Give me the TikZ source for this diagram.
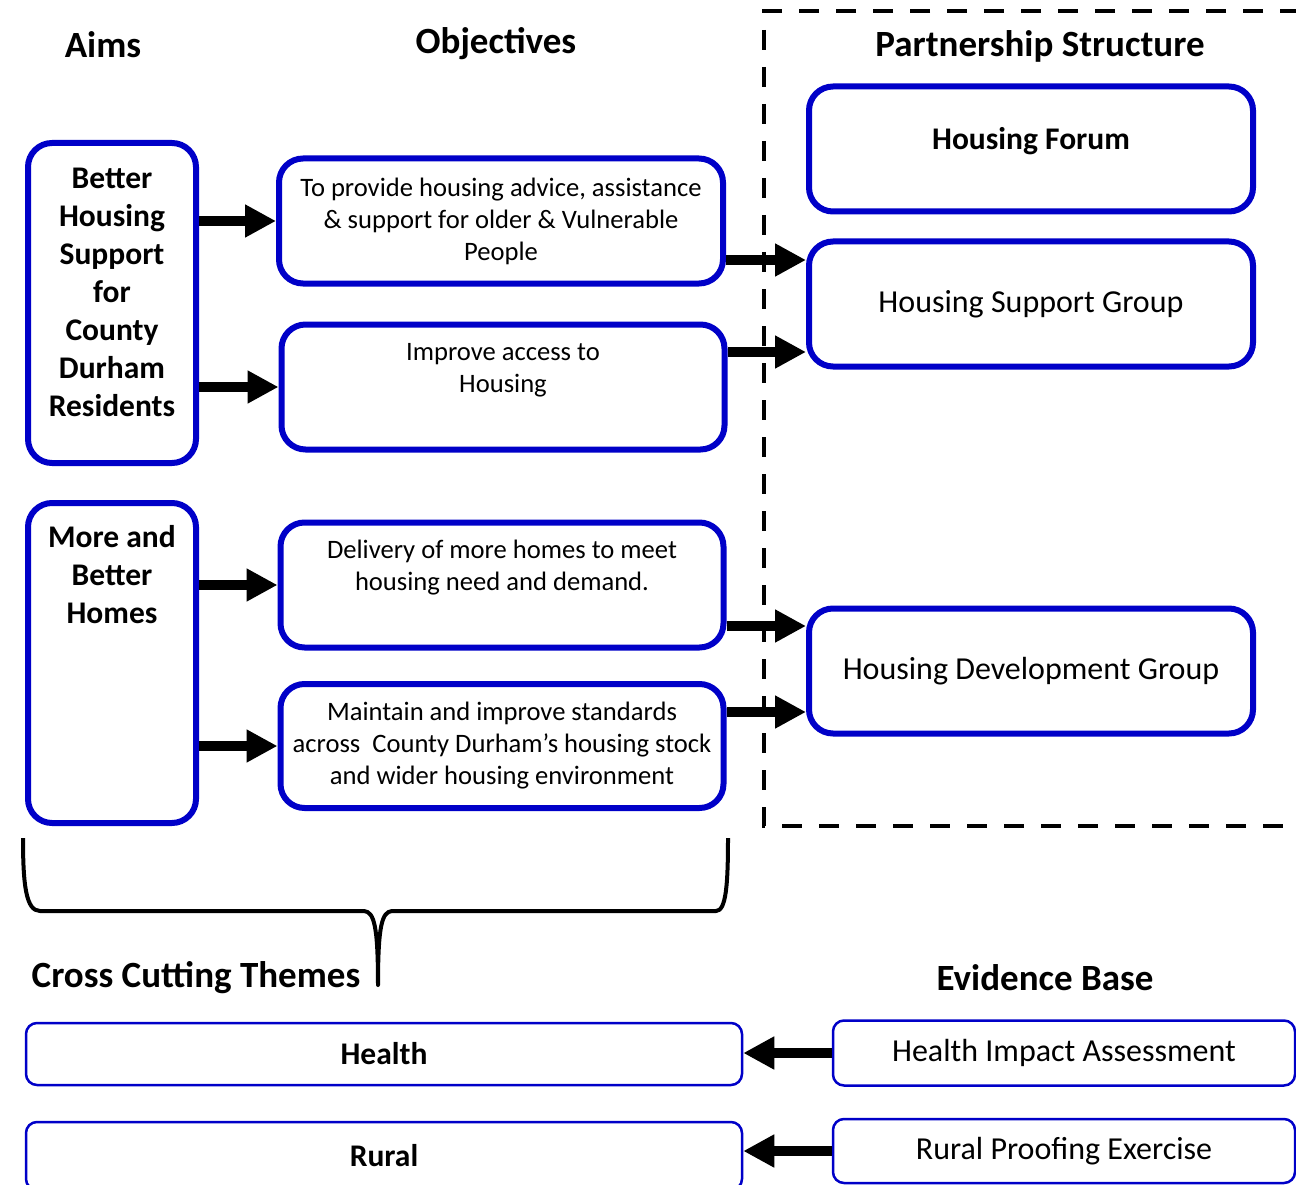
\documentclass[tikz,border=0pt]{standalone}
\usepackage{fontspec}
\setmainfont{Carlito}
\usetikzlibrary{arrows.meta}
\definecolor{boxblue}{RGB}{0,0,200}
\newcommand{\headfont}{\fontsize{37}{44}\selectfont\bfseries}
\newcommand{\aimfont}{\fontsize{31.5}{38}\selectfont\bfseries}
\newcommand{\objfont}{\fontsize{26.6}{32}\selectfont}
\newcommand{\groupfont}{\fontsize{32}{38}\selectfont}

\begin{document}
\begin{tikzpicture}[x=1pt,y=-1pt,
  thickbox/.style={draw=boxblue,line width=6pt,rounded corners=24pt,fill=white,inner sep=0pt},
  thinbox/.style={draw=boxblue,line width=2.5pt,rounded corners=11pt,fill=white,inner sep=0pt},
  bigarrow/.style={line width=10pt,-{Triangle[length=31pt,width=31pt]},shorten <=0pt,shorten >=0pt},
  heading/.style={font=\headfont,inner sep=0pt},
  boxtext/.style={align=center,inner sep=0pt}]
  \useasboundingbox (0,0) rectangle (1296,1185);

  % partnership frame
  \draw[line width=4pt,dash pattern=on 20pt off 17pt] (1300,11) -- (764,11) -- (764,826) -- (1300,826);

  % headings
  \node[heading] (aimsT) at (103,45) {Aims};
  \node[heading] (objT) at (496,44) {Objectives};
  \node[heading] (partT) at (1040,46) {Partnership Structure};
  \node[heading] (crossT) at (196,978) {Cross Cutting Themes};
  \node[heading] (evidT) at (1045,978) {Evidence Base};

  % aims
  \node[thickbox,minimum width=168pt,minimum height=320pt] (aimA) at (112,303) {};
  \node[boxtext,font=\aimfont] (aimAtext) at (112,292) {Better\\Housing\\Support\\for\\County\\Durham\\Residents};
  \node[thickbox,minimum width=168pt,minimum height=320pt] (aimB) at (112,663) {};
  \node[boxtext,font=\aimfont] (aimBtext) at (112,575) {More and\\Better\\Homes};

  % objectives
  \node[thickbox,boxtext,font=\objfont,minimum width=444pt,minimum height=125pt] (objA) at (501,221)
    {To provide housing advice, assistance\\\& support for older \& Vulnerable\\People};
  \node[thickbox,minimum width=443pt,minimum height=125pt] (objB) at (503,387) {};
  \node[boxtext,font=\objfont] (objBtext) at (503,370) {Improve access to\\Housing};
  \node[thickbox,minimum width=443pt,minimum height=125pt] (objC) at (502,585) {};
  \node[boxtext,font=\objfont] (objCtext) at (502,568) {Delivery of more homes to meet\\housing need and demand.};
  \node[thickbox,boxtext,font=\objfont,minimum width=443pt,minimum height=124pt] (objD) at (502,746)
    {Maintain and improve standards\\across~ County Durham’s housing stock\\and wider housing environment};

  % partnership groups
  \node[thickbox,minimum width=444pt,minimum height=125pt] (forum) at (1031,149) {};
  \node[boxtext,font=\aimfont] (forumtext) at (1031,141) {Housing Forum};
  \node[thickbox,boxtext,font=\groupfont,minimum width=444pt,minimum height=125pt] (hsg) at (1031,304) {Housing Support Group};
  \node[thickbox,boxtext,font=\groupfont,minimum width=444pt,minimum height=125pt] (hdg) at (1031,671) {Housing Development Group};

  % themes and evidence
  \node[thinbox,boxtext,font=\aimfont,minimum width=716pt,minimum height=62pt] (health) at (384,1054) {Health};
  \node[thinbox,boxtext,font=\aimfont,minimum width=716pt,minimum height=68pt] (rural) at (384,1156) {Rural};
  \node[thinbox,boxtext,font=\groupfont,minimum width=462pt,minimum height=65pt] (hia) at (1064,1053) {Health Impact Assessment};
  \node[thinbox,boxtext,font=\groupfont,minimum width=462pt,minimum height=64pt] (rpe) at (1064,1151) {Rural Proofing Exercise};

  % arrows
  \draw[bigarrow] (objA.west -| aimA.east) -- (objA.west);
  \draw[bigarrow] (objB.west -| aimA.east) -- (objB.west);
  \draw[bigarrow] (objC.west -| aimB.east) -- (objC.west);
  \draw[bigarrow] (objD.west -| aimB.east) -- (objD.west);
  \draw[bigarrow] ([yshift=-39pt]objA.east) -- ([yshift=-39pt]objA.east -| hsg.west);
  \draw[bigarrow] ([yshift=35pt]objB.east) -- ([yshift=35pt]objB.east -| hsg.west);
  \draw[bigarrow] ([yshift=-41pt]objC.east) -- ([yshift=-41pt]objC.east -| hdg.west);
  \draw[bigarrow] ([yshift=34pt]objD.east) -- ([yshift=34pt]objD.east -| hdg.west);
  \draw[bigarrow] (hia.west) -- (hia.west -| health.east);
  \draw[bigarrow] (rpe.west) -- (rpe.west -| rural.east);

  % brace
  \draw[line width=4pt,line join=round] (23,838) .. controls (23,885) and (26,911) .. (40,911) -- (364,911)
    .. controls (374,912) and (378,925) .. (378,985)
    .. controls (378,925) and (382,912) .. (392,911) -- (716,911)
    .. controls (726,911) and (728,885) .. (728,838);
\end{tikzpicture}
\end{document}
